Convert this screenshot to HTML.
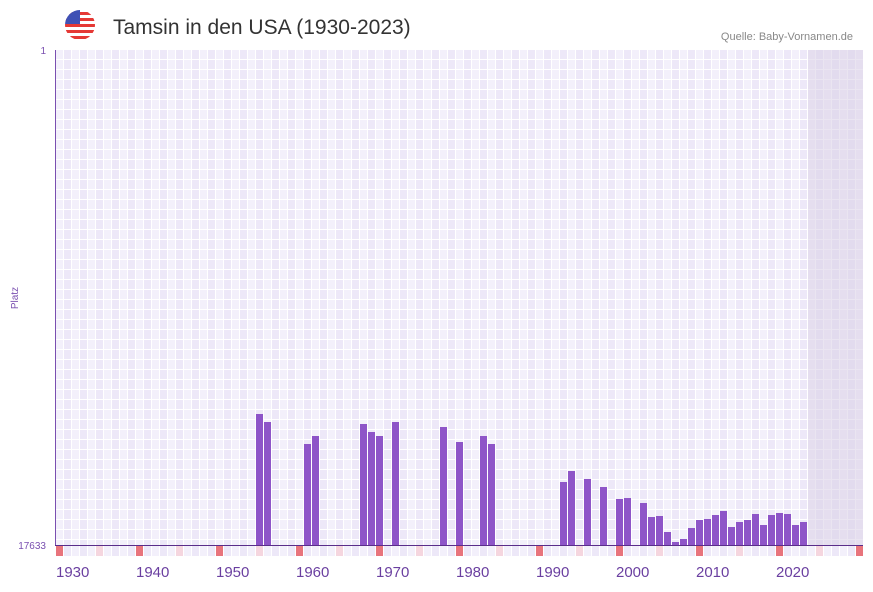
<!DOCTYPE html>
<html><head><meta charset="utf-8"><style>
body{margin:0;background:#fff;width:873px;height:587px;overflow:hidden;font-family:"Liberation Sans",sans-serif}
</style></head><body>
<svg width="873" height="587" xmlns="http://www.w3.org/2000/svg">
<defs>
<pattern id="g" x="56" y="50" width="16" height="10" patternUnits="userSpaceOnUse">
<rect width="16" height="10" fill="#fff"/>
<rect x="0" y="0" width="7" height="9" fill="#f3f0fb"/>
<rect x="8" y="0" width="7" height="9" fill="#ede8f8"/>
</pattern>
<pattern id="m" x="56" y="546" width="16" height="10" patternUnits="userSpaceOnUse">
<rect width="16" height="10" fill="#fff"/>
<rect x="0" y="0" width="7" height="10" fill="#f3f0fb"/>
<rect x="8" y="0" width="7" height="10" fill="#ede8f8"/>
</pattern>
</defs>
<circle cx="80" cy="25" r="15" fill="#fff"/>
<g>
<clipPath id="c"><circle cx="80" cy="25" r="15"/></clipPath>
<g clip-path="url(#c)">
<rect x="65" y="10" width="30" height="30" fill="#fff"/>
<rect x="65" y="12" width="30" height="3" fill="#e53935"/>
<rect x="65" y="18" width="30" height="3" fill="#e53935"/>
<rect x="65" y="24" width="30" height="3" fill="#e53935"/>
<rect x="65" y="30" width="30" height="3" fill="#e53935"/>
<rect x="65" y="36" width="30" height="3" fill="#e53935"/>
<rect x="65" y="10" width="15" height="14" fill="#3f51b5"/>
</g></g>
<text x="113" y="34" font-size="21" fill="#333">Tamsin in den USA (1930-2023)</text>
<text x="853" y="40" font-size="11" fill="#888" text-anchor="end">Quelle: Baby-Vornamen.de</text>
<rect x="56" y="50" width="807" height="495" fill="url(#g)"/>
<rect x="808" y="50" width="55" height="495" fill="#d8d0e6" opacity="0.55"/>
<rect x="56" y="546" width="807" height="10" fill="url(#m)"/>
<g fill="#e8747c">
<rect x="56" y="546" width="7" height="10"/><rect x="136" y="546" width="7" height="10"/><rect x="216" y="546" width="7" height="10"/><rect x="296" y="546" width="7" height="10"/><rect x="376" y="546" width="7" height="10"/><rect x="456" y="546" width="7" height="10"/><rect x="536" y="546" width="7" height="10"/><rect x="616" y="546" width="7" height="10"/><rect x="696" y="546" width="7" height="10"/><rect x="776" y="546" width="7" height="10"/><rect x="856" y="546" width="7" height="10"/>
</g>
<g fill="#f5d6df">
<rect x="96" y="546" width="7" height="10"/><rect x="176" y="546" width="7" height="10"/><rect x="256" y="546" width="7" height="10"/><rect x="336" y="546" width="7" height="10"/><rect x="416" y="546" width="7" height="10"/><rect x="496" y="546" width="7" height="10"/><rect x="576" y="546" width="7" height="10"/><rect x="656" y="546" width="7" height="10"/><rect x="736" y="546" width="7" height="10"/><rect x="816" y="546" width="7" height="10"/>
</g>
<g fill="#8e55c8">
<rect x="256" y="414" width="7" height="131"/><rect x="264" y="422" width="7" height="123"/>
<rect x="304" y="444" width="7" height="101"/><rect x="312" y="436" width="7" height="109"/>
<rect x="360" y="424" width="7" height="121"/><rect x="368" y="432" width="7" height="113"/><rect x="376" y="436" width="7" height="109"/>
<rect x="392" y="422" width="7" height="123"/>
<rect x="440" y="427" width="7" height="118"/><rect x="456" y="442" width="7" height="103"/>
<rect x="480" y="436" width="7" height="109"/><rect x="488" y="444" width="7" height="101"/>
<rect x="560" y="482" width="7" height="63"/><rect x="568" y="471" width="7" height="74"/>
<rect x="584" y="479" width="7" height="66"/><rect x="600" y="487" width="7" height="58"/>
<rect x="616" y="499" width="7" height="46"/><rect x="624" y="498" width="7" height="47"/>
<rect x="640" y="503" width="7" height="42"/><rect x="648" y="517" width="7" height="28"/>
<rect x="656" y="516" width="7" height="29"/><rect x="664" y="532" width="7" height="13"/>
<rect x="672" y="542" width="7" height="3"/><rect x="680" y="539" width="7" height="6"/>
<rect x="688" y="528" width="7" height="17"/><rect x="696" y="520" width="7" height="25"/>
<rect x="704" y="519" width="7" height="26"/><rect x="712" y="515" width="7" height="30"/>
<rect x="720" y="511" width="7" height="34"/><rect x="728" y="527" width="7" height="18"/>
<rect x="736" y="522" width="7" height="23"/><rect x="744" y="520" width="7" height="25"/>
<rect x="752" y="514" width="7" height="31"/><rect x="760" y="525" width="7" height="20"/>
<rect x="768" y="515" width="7" height="30"/><rect x="776" y="513" width="7" height="32"/>
<rect x="784" y="514" width="7" height="31"/><rect x="792" y="525" width="7" height="20"/>
<rect x="800" y="522" width="7" height="23"/>
</g>
<line x1="55.5" y1="50" x2="55.5" y2="545" stroke="#7a4fb0" stroke-width="1"/>
<line x1="55" y1="545.5" x2="863" y2="545.5" stroke="#5a2d8a" stroke-width="1"/>
<text x="46" y="54" font-size="10" fill="#7a4fb0" text-anchor="end">1</text>
<text x="46" y="549" font-size="10" fill="#7a4fb0" text-anchor="end">17633</text>
<text x="18" y="298" font-size="10" fill="#7a4fb0" text-anchor="middle" transform="rotate(-90 18 298)">Platz</text>
<g font-size="15" fill="#6a3fa0">
<text x="56" y="577">1930</text><text x="136" y="577">1940</text><text x="216" y="577">1950</text><text x="296" y="577">1960</text><text x="376" y="577">1970</text><text x="456" y="577">1980</text><text x="536" y="577">1990</text><text x="616" y="577">2000</text><text x="696" y="577">2010</text><text x="776" y="577">2020</text>
</g>
</svg>
</body></html>
